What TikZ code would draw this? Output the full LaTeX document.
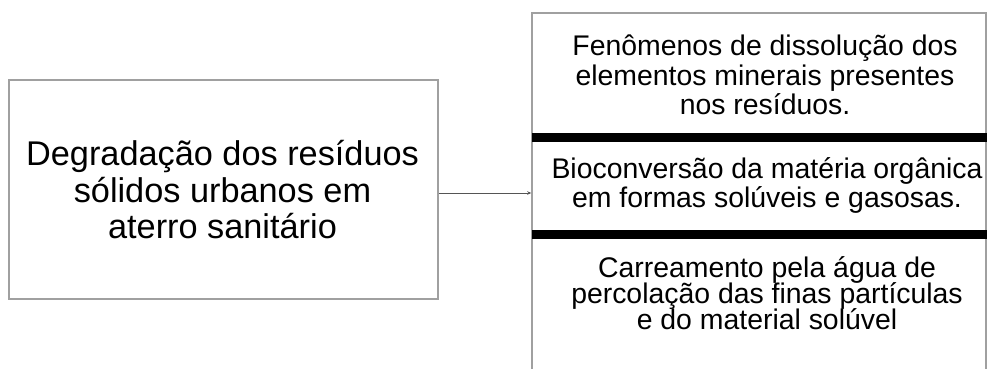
\documentclass[tikz,border=0pt]{standalone}
\usepackage{fontspec}
\setmainfont{Liberation Sans}
\usetikzlibrary{arrows.meta}
\definecolor{boxgray}{RGB}{160,160,160}
\definecolor{arrgray}{RGB}{85,85,85}
\tikzset{
  boxframe/.style={draw=boxgray, line width=1.5pt, rectangle, inner sep=0pt},
  bigtxt/.style={anchor=base, inner sep=0pt, font=\fontsize{34.3}{36}\selectfont},
  smalltxt/.style={anchor=base, inner sep=0pt, font=\fontsize{28.4}{29}\selectfont},
  arr/.style={draw=arrgray, line width=0.8pt, -{Stealth[length=4pt,width=3.5pt]}},
  sepbar/.style={fill=black}
}
\begin{document}
\begin{tikzpicture}[x=1pt,y=-1pt]
\useasboundingbox (0,0) rectangle (987,369);
% boxes
\node[boxframe, minimum width=429pt, minimum height=219pt] (lbox) at (223.5,189.5) {};
\node[boxframe, minimum width=454pt, minimum height=360pt] (rbox) at (759,193) {};
% separator bars
\fill[sepbar] (532,133) rectangle (987,142);
\fill[sepbar] (532,230) rectangle (987,239);
% left text
\node[bigtxt] (l1) at (222.5,165) {Degradação dos resíduos};
\node[bigtxt] (l2) at (222.5,202) {sólidos urbanos em};
\node[bigtxt] (l3) at (222.5,238) {aterro sanitário};
% right text
\node[smalltxt] (a1) at (765,56) {Fenômenos de dissolução dos};
\node[smalltxt] (a2) at (765,85) {elementos minerais presentes};
\node[smalltxt] (a3) at (765,114) {nos resíduos.};
\node[smalltxt] (b1) at (767,178) {Bioconversão da matéria orgânica};
\node[smalltxt] (b2) at (767,207) {em formas solúveis e gasosas.};
\node[smalltxt] (c1) at (767,277) {Carreamento pela água de};
\node[smalltxt] (c2) at (767,303) {percolação das finas partículas};
\node[smalltxt] (c3) at (767,329) {e do material solúvel};
% connector
\draw[arr] (lbox.east |- rbox.west) -- (rbox.west);
\end{tikzpicture}
\end{document}
